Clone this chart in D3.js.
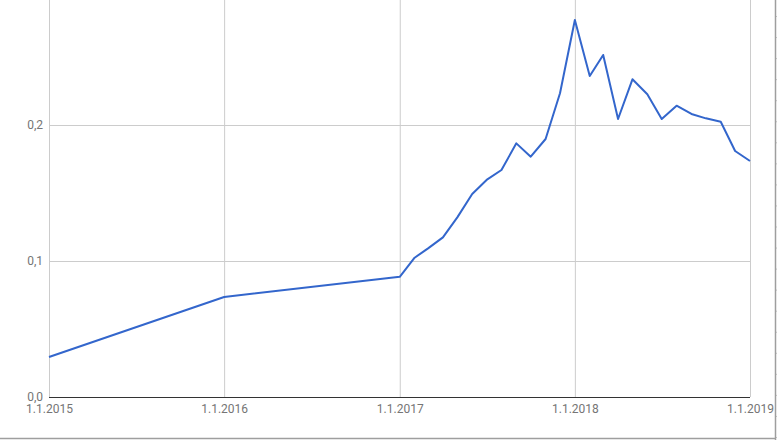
<!DOCTYPE html>
<meta charset="utf-8">
<script src="https://d3js.org/d3.v7.min.js"></script>
<head>
  <style>
  body { margin: 0; background: #fff; }
  svg { display: block; }
  .tick text { font-family: Roboto, sans-serif; font-size: 12px; fill: #757575; }
  </style>
</head>
<body>
<div id="chart"></div>
<script>

  // dates (d.m.yyyy) and values
  var dates = ["1.1.2015", "1.1.2016", "1.1.2017",
    "1.2.2017", "1.3.2017", "1.4.2017", "1.5.2017", "1.6.2017", "1.7.2017",
    "1.8.2017", "1.9.2017", "1.10.2017", "1.11.2017", "1.12.2017",
    "1.1.2018", "1.2.2018", "1.3.2018", "1.4.2018", "1.5.2018", "1.6.2018",
    "1.7.2018", "1.8.2018", "1.9.2018", "1.10.2018", "1.11.2018", "1.12.2018",
    "1.1.2019"]
  var values = [0.0294, 0.0735, 0.0884,
    0.1024, 0.1093, 0.1174, 0.1321, 0.1493, 0.1596,
    0.1669, 0.1865, 0.1767, 0.1897, 0.2233,
    0.2772, 0.2360, 0.2515, 0.2044, 0.2336, 0.2226,
    0.2044, 0.2142, 0.2081, 0.2049, 0.2024, 0.1809,
    0.1735]
  var xTicks = ["1.1.2015", "1.1.2016", "1.1.2017", "1.1.2018", "1.1.2019"]
  var yTicks = [0, 0.1, 0.2]

  var width = 777,
      height = 440
  // plot area ("top" is taken by window.top, so use other names)
  var plotLeft = 49, plotRight = 750, plotTop = 0, plotBottom = 397

  var parse = d3.timeParse("%d.%m.%Y")
  var data = dates.map(function(d, i) { return {date: parse(d), value: values[i]} })

  var x = d3.scaleTime()
    .domain([parse(xTicks[0]), parse(xTicks[xTicks.length - 1])])
    .range([plotLeft, plotRight])

  // 0.1 per 136px, plot area runs up to the top edge
  var y = d3.scaleLinear()
    .domain([0, (plotBottom - plotTop) / 1360])
    .range([plotBottom, plotTop])

  var svg = d3.select("#chart")
    .append("svg")
    .attr("width", width)
    .attr("height", height)

  // vertical grid + x labels
  svg.append("g")
    .attr("transform", "translate(0," + plotBottom + ")")
    .call(d3.axisBottom(x)
      .tickValues(xTicks.map(parse))
      .tickSize(-(plotBottom - plotTop))
      .tickFormat(d3.timeFormat("%-d.%-m.%Y")))
    .call(function(g) {
      g.select(".domain").remove()
      g.selectAll(".tick line").attr("stroke", "#cccccc")
      g.selectAll(".tick text").attr("y", 7).attr("dy", "0.71em")
    })

  // horizontal grid + y labels
  svg.append("g")
    .attr("transform", "translate(" + plotLeft + ",0)")
    .call(d3.axisLeft(y)
      .tickValues(yTicks)
      .tickSize(-(plotRight - plotLeft))
      .tickPadding(6)
      .tickFormat(function(d) { return d3.format(".1f")(d).replace(".", ",") }))
    .call(function(g) {
      g.select(".domain").remove()
      g.selectAll(".tick line").attr("stroke", "#cccccc")
    })

  // zero baseline
  svg.append("line")
    .attr("x1", plotLeft).attr("x2", plotRight)
    .attr("y1", y(0) + 0.5).attr("y2", y(0) + 0.5)
    .attr("stroke", "#333333")
    .attr("stroke-width", 1.2)

  // the line
  var line = d3.line()
    .x(function(d) { return x(d.date) })
    .y(function(d) { return y(d.value) })

  svg.append("path")
    .datum(data)
    .attr("d", line)
    .attr("fill", "none")
    .attr("stroke", "#3366cc")
    .attr("stroke-width", 2)
    .attr("stroke-linejoin", "round")

  // frame at right / bottom edge with the little ruler ticks
  svg.append("line")
    .attr("x1", 775.5).attr("x2", 775.5).attr("y1", 0).attr("y2", 440)
    .attr("stroke", "#9e9e9e").attr("stroke-width", 1.5)
  svg.append("line")
    .attr("x1", 0).attr("x2", 776).attr("y1", 438.5).attr("y2", 438.5)
    .attr("stroke", "#9e9e9e").attr("stroke-width", 1.5)
  svg.append("g")
    .selectAll("line")
    .data(d3.range(0, 21))
    .enter()
    .append("line")
    .attr("x1", 776).attr("x2", 777)
    .attr("y1", function(k) { return 16.5 + k * 21.05 })
    .attr("y2", function(k) { return 16.5 + k * 21.05 })
    .attr("stroke", "#bdbdbd")

</script>
</body>
